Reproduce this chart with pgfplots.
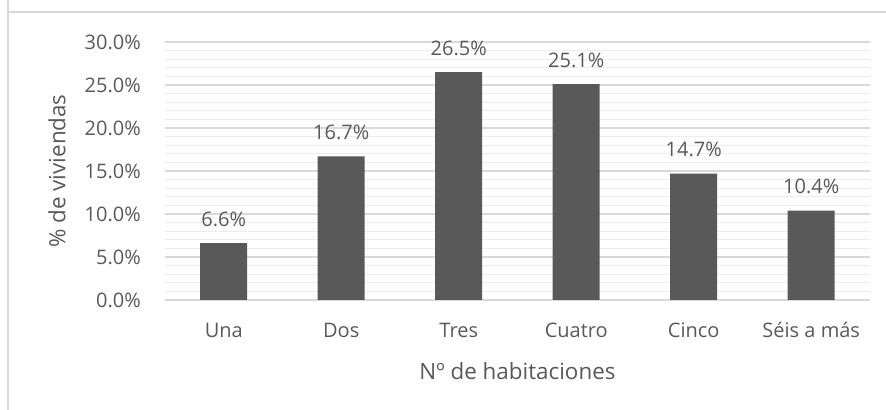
\documentclass[border=0pt]{standalone}
\usepackage{pgfplots}
\pgfplotsset{compat=1.18}
\usepackage{fontspec}
\setmainfont{Open Sans}
\definecolor{txt}{HTML}{595959}
\definecolor{bar}{HTML}{595959}
\definecolor{major}{HTML}{D9D9D9}
\definecolor{minor}{HTML}{EDEDED}
\begin{document}
\fontsize{15pt}{18pt}\selectfont
\begin{tikzpicture}
\path[use as bounding box] (0pt,0pt) rectangle (664.5pt,307.5pt);
\draw[major, line width=0.9pt] (6pt,307.5pt) -- (6pt,298.5pt) -- (664.5pt,298.5pt);
\draw[major, line width=0.9pt] (6pt,0pt) -- (6pt,298.5pt);
\begin{axis}[
  at={(123.75pt,82.5pt)}, anchor=south west,
  scale only axis, width=528.75pt, height=193.5pt,
  /pgf/number format/assume math mode=true,
  font=\fontsize{15pt}{18pt}\selectfont,
  ybar, bar width=35.25pt,
  xmin=-0.5, xmax=5.5, ymin=0, ymax=30,
  xtick={0,1,2,3,4,5},
  xticklabels={Una,Dos,Tres,Cuatro,Cinco,Séis a más},
  ytick={0,5,...,30},
  minor ytick={1,2,3,4,6,7,8,9,11,12,13,14,16,17,18,19,21,22,23,24,26,27,28,29},
  ymajorgrids, yminorgrids,
  major grid style={major, line width=0.9pt},
  minor grid style={minor, line width=0.9pt},
  axis line style={draw=none},
  major tick length=0pt, minor tick length=0pt,
  tick style={draw=none},
  yticklabel={\pgfmathprintnumber[fixed,fixed zerofill,precision=1]{\tick}\%},
  yticklabel style={anchor=east, inner sep=0pt, xshift=-18pt, text=txt},
  xticklabel style={anchor=base, inner sep=0pt, yshift=-28.5pt, text=txt},
  ylabel={\% de viviendas},
  ylabel style={at={(axis description cs:-0.1532,0.5)}, anchor=center, rotate=0, text=txt, inner sep=0pt, font=\fontsize{16.8pt}{20pt}\selectfont},
  xlabel={Nº de habitaciones},
  xlabel style={at={(axis description cs:0.5,-0.31)}, anchor=base, text=txt, inner sep=0pt, font=\fontsize{16.8pt}{20pt}\selectfont},
  nodes near coords={\pgfmathprintnumber[fixed,fixed zerofill,precision=1]{\pgfplotspointmeta}\%},
  nodes near coords style={anchor=base, inner sep=0pt, yshift=12.75pt, text=txt},
  clip=false,
]
\draw[major, line width=0.9pt] (axis cs:-0.5,0) -- (axis cs:5.5,0);
\addplot[fill=bar, draw=none] coordinates {(0,6.6) (1,16.7) (2,26.5) (3,25.1) (4,14.7) (5,10.4)};
\end{axis}
\end{tikzpicture}
\end{document}
